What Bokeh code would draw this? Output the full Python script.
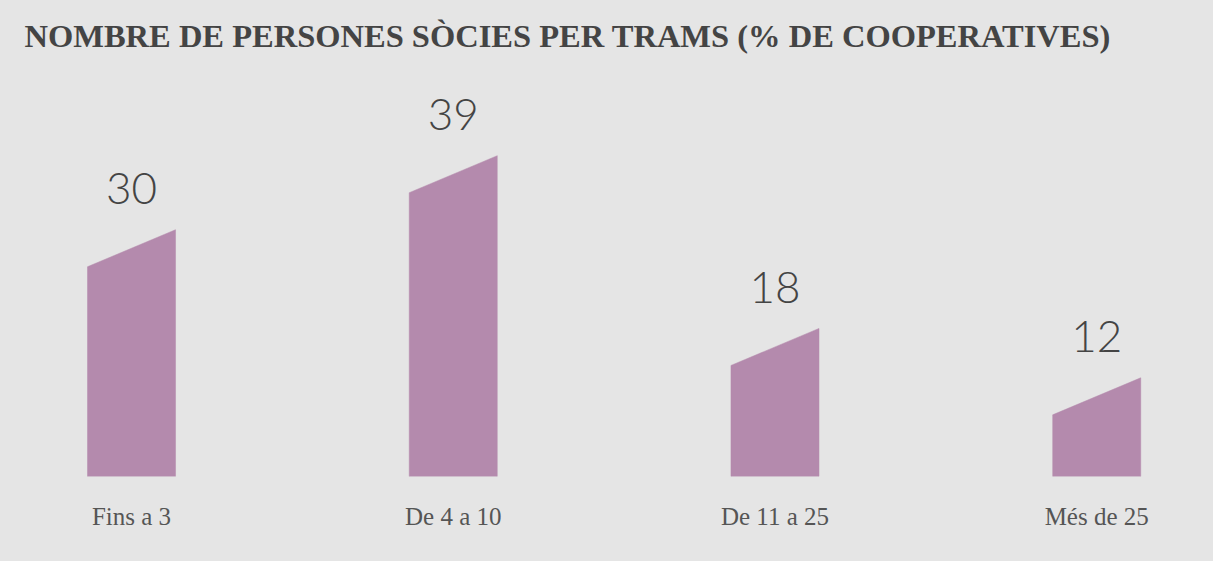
from bokeh.plotting import figure
from bokeh.models import Range1d, FixedTicker, ColumnDataSource
from bokeh.core.properties import value
from bokeh.embed import file_html
from bokeh.resources import INLINE

title_text = "NOMBRE DE PERSONES SÒCIES PER TRAMS (% DE COOPERATIVES)"
categories = ["Fins a 3", "De 4 a 10", "De 11 a 25", "Més de 25"]
values = [30, 39, 18, 12]

BG = "#e5e5e5"
BAR = "#b48aad"
W = 0.2736      # bar width in x units
SLANT = 4.5     # drop of the left top corner, in y units

pos = list(range(len(categories)))
xs = [[c - W / 2, c + W / 2, c + W / 2, c - W / 2] for c in pos]
ys = [[0, 0, v, v - SLANT] for v in values]

p = figure(width=1213, height=561, output_backend="svg", toolbar_location=None,
           x_range=Range1d(-0.3264, 3.363), y_range=Range1d(0, 49.6),
           min_border_left=26, min_border_right=0, min_border_top=68, min_border_bottom=85)
p.background_fill_color = None
p.border_fill_color = None
p.styles = {"background-color": BG}
p.outline_line_color = None
p.grid.visible = False
p.yaxis.visible = False

p.title.text = title_text
p.title.text_font = "Liberation Serif"
p.title.text_font_style = "bold"
p.title.text_font_size = "32.5px"
p.title.text_color = "#444444"
p.title.standoff = 29
p.title.offset = -2

p.patches(xs=xs, ys=ys, fill_color=BAR, line_color=BAR, line_width=0.5)

src = ColumnDataSource(dict(x=pos, y=values, t=[str(v) for v in values]))
p.text(x="x", y="y", text="t", source=src, text_align="center", text_baseline="alphabetic",
       y_offset=-41, text_font=value("Lato Light"), text_font_size="44px", text_color="#444444")

ax = p.xaxis[0]
ax.ticker = FixedTicker(ticks=pos)
ax.major_label_overrides = {c: n for c, n in zip(pos, categories)}
ax.axis_line_color = None
ax.major_tick_line_color = None
ax.minor_tick_line_color = None
ax.major_label_standoff = 20
ax.major_label_text_font = "Liberation Serif"
ax.major_label_text_font_size = "25px"
ax.major_label_text_color = "#555555"

open("out.html", "w").write(file_html(p, INLINE))
